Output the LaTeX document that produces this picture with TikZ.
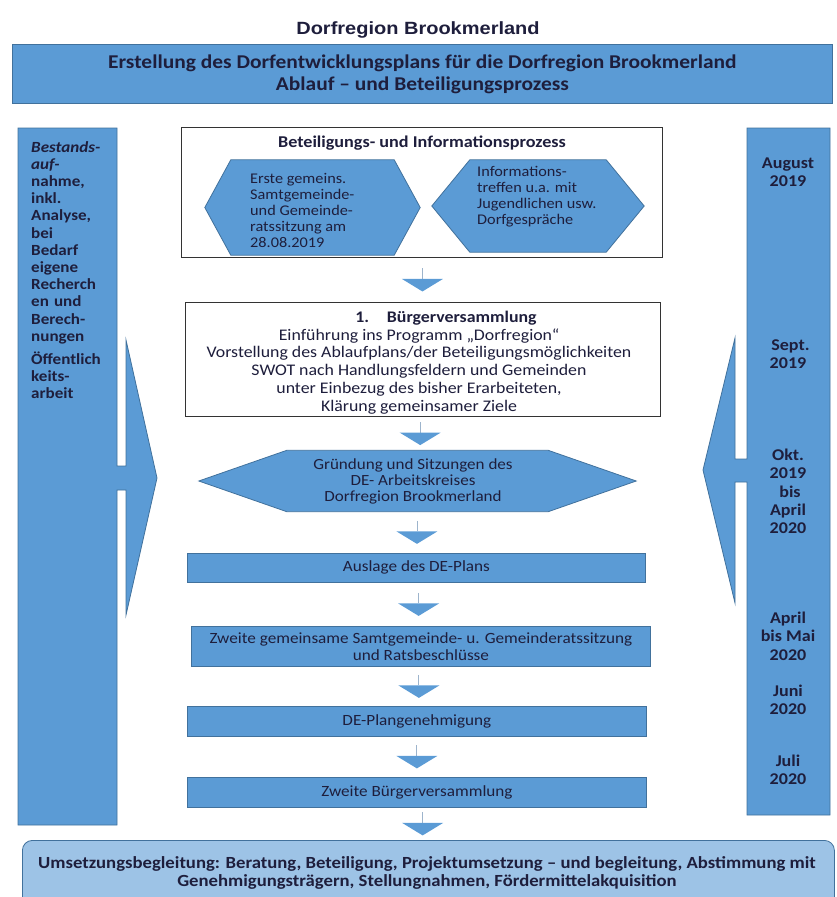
\documentclass[tikz,border=0pt]{standalone}
\usepackage{fontspec}
\setmainfont{Carlito}[FakeStretch=1.1]
\newfontfamily\arialf{Liberation Sans}[FakeStretch=1.13]
\usetikzlibrary{calc}
\definecolor{bl}{HTML}{5B9BD5}
\definecolor{bd}{HTML}{41719C}
\definecolor{lb}{HTML}{9DC3E6}
\definecolor{tx}{HTML}{1E1E3C}
\definecolor{ar}{HTML}{9DB4CC}
\newcommand\fsz[2]{\fontsize{#1}{#2}\selectfont}
\newcommand\dnarr[2]{%
  \coordinate (m) at ($(#1.south)!0.5!(#2.north)$);
  \draw[ar, line width=0.9pt] ($(m)+(0,-11.5)$) -- ($(m)+(0,-1)$);
  \fill[bl] ($(m)+(-20.5,-1)$) -- ($(m)+(20.5,-1)$) -- ($(m)+(0,11.5)$) -- cycle;}
\newcommand\hexpath[2]{% node, inset
  (#1.west) -- ($(#1.north west)+(#2,0)$) -- ($(#1.north east)+(-#2,0)$) -- (#1.east)
  -- ($(#1.south east)+(-#2,0)$) -- ($(#1.south west)+(#2,0)$) -- cycle}
\begin{document}
\begin{tikzpicture}[x=1pt,y=-1pt,
  bluebox/.style={draw=bd, fill=bl, line width=0.8pt, text=tx, inner sep=0pt, align=center},
  shapebox/.style={inner sep=0pt, minimum width=#1},
  txt/.style={text=tx, inner sep=0pt},
  hexst/.style={draw=bd, fill=bl, line width=0.8pt}]
\useasboundingbox (0,0) rectangle (836,897);
\clip (0,0) rectangle (836,897);

% title
\node[txt, font=\arialf\bfseries\fsz{17.7}{20}] (title) at (418,30) {Dorfregion Brookmerland};

% header
\node[bluebox, anchor=north west, minimum width=820pt, minimum height=59pt,
  font=\bfseries\fsz{19.5}{22}] (head) at (12,44)
  {Erstellung des Dorfentwicklungsplans für die Dorfregion Brookmerland\\Ablauf – und Beteiligungsprozess};

% left column with arrow
\fill[bl, draw=bd, line width=0.8pt] (18,128) -- (117,128) -- (117,466) -- (126,466) -- (126,340)
  -- (157,478) -- (126,615) -- (126,490) -- (117,490) -- (117,825) -- (18,825) -- cycle;
\node[txt, anchor=west, align=left, text width=86pt, font=\bfseries\fsz{15.5}{17.2}] (left) at (31,270)
  {\textit{Bestands-}\\\textit{auf-}\\nahme,\\inkl.\\Analyse,\\bei\\Bedarf\\eigene\\Recherch\\en und\\Berech-\\nungen\\[5.8pt]Öffentlich\\keits-\\arbeit};

% right column with arrow
\fill[bl, draw=bd, line width=0.8pt] (747,128) -- (830,128) -- (830,815) -- (747,815) -- (747,482)
  -- (735,482) -- (735,603) -- (703,470) -- (735,338) -- (735,459) -- (747,459) -- cycle;
\begin{scope}[every node/.style={txt, align=center, font=\bfseries\fsz{16.4}{18.3}}]
\node (aug) at (788,172.5) {August\\2019};
\node (sep) at (788,354) {\hspace*{5pt}Sept.\\2019};
\node (okt) at (788,491.5) {Okt.\\2019\\\hspace*{4pt}bis\\April\\2020};
\node (apr) at (788,636) {April\\bis Mai\\2020};
\node (jun) at (788,699.5) {Juni\\2020};
\node (jul) at (788,769.5) {Juli\\2020};
\end{scope}

% top white box
\node[draw=black!80, line width=0.9pt, fill=white, anchor=north west, minimum width=481pt, minimum height=130pt,
  inner sep=0pt] (beteil) at (181,127) {};
\node[txt, font=\bfseries\fsz{16.5}{17}] (beteilt) at (422,143) {Beteiligungs- und Informationsprozess};
\node[shapebox=215pt, minimum height=95pt] (hexa) at (312.5,207.5) {};
\fill[hexst] \hexpath{hexa}{26};
\node[txt, anchor=west, align=left, font=\fsz{14.8}{16}] (hexat) at (250,210)
  {Erste gemeins.\\Samtgemeinde-\\und Gemeinde-\\ratssitzung am\\28.08.2019};
\node[shapebox=212pt, minimum height=92pt] (hexb) at (538,206) {};
\fill[hexst] \hexpath{hexb}{38};
\node[txt, anchor=west, align=left, font=\fsz{14.8}{16}] (hexbt) at (477,197)
  {Informations-\\treffen u.a. mit\\Jugendlichen usw.\\Dorfgespräche};

% Buergerversammlung
\node[draw=black!80, line width=0.9pt, fill=white, anchor=north west, minimum width=475pt, minimum height=114pt,
  inner sep=0pt] (buerger) at (185,302) {};
\node[txt, align=center, font=\fsz{16.2}{17.8}] (buergert) at (419,362.5)
  {\hspace*{54pt}\textbf{1.\hspace{1.1em}Bürgerversammlung}\\Einführung ins Programm „Dorfregion“\\Vorstellung des Ablaufplans/der Beteiligungsmöglichkeiten\\SWOT nach Handlungsfeldern und Gemeinden\\unter Einbezug des bisher Erarbeiteten,\\Klärung gemeinsamer Ziele};

% big hexagon
\node[shapebox=437pt, minimum height=61pt] (hexc) at (417.5,481) {};
\fill[hexst] \hexpath{hexc}{88};
\node[txt, align=center, font=\fsz{15.5}{16}] (hexct) at (413,481)
  {Gründung und Sitzungen des\\DE- Arbeitskreises\\Dorfregion Brookmerland};

% boxes
\begin{scope}[every node/.append style={bluebox, anchor=north west, font=\fsz{15.6}{16.7}}]
\node[minimum width=458pt, minimum height=29pt] (ausl) at (187,553) {Auslage des DE-Plans};
\node[minimum width=459pt, minimum height=40pt] (zweit) at (191,626) {Zweite gemeinsame Samtgemeinde- u. Gemeinderatssitzung\\und Ratsbeschlüsse};
\node[minimum width=459pt, minimum height=30pt] (plan) at (187,706) {DE-Plangenehmigung};
\node[minimum width=459pt, minimum height=30pt] (zbv) at (187,777) {Zweite Bürgerversammlung};
\end{scope}

% bottom box
\node[draw=bd, fill=lb, line width=0.8pt, rounded corners=10pt, anchor=north west, minimum width=812pt,
  minimum height=80pt, inner sep=0pt] (umsetz) at (22,840) {};
\node[txt, align=center, font=\bfseries\fsz{17}{18}] (umsetzt) at (427,873)
  {Umsetzungsbegleitung: Beratung, Beteiligung, Projektumsetzung – und begleitung, Abstimmung mit\\Genehmigungsträgern, Stellungnahmen, Fördermittelakquisition};

% arrows
\dnarr{beteil}{buerger}
\dnarr{buerger}{hexc}
\dnarr{hexc}{ausl}
\dnarr{ausl}{zweit}
\dnarr{zweit}{plan}
\dnarr{plan}{zbv}
\dnarr{zbv}{umsetz}
\end{tikzpicture}
\end{document}
